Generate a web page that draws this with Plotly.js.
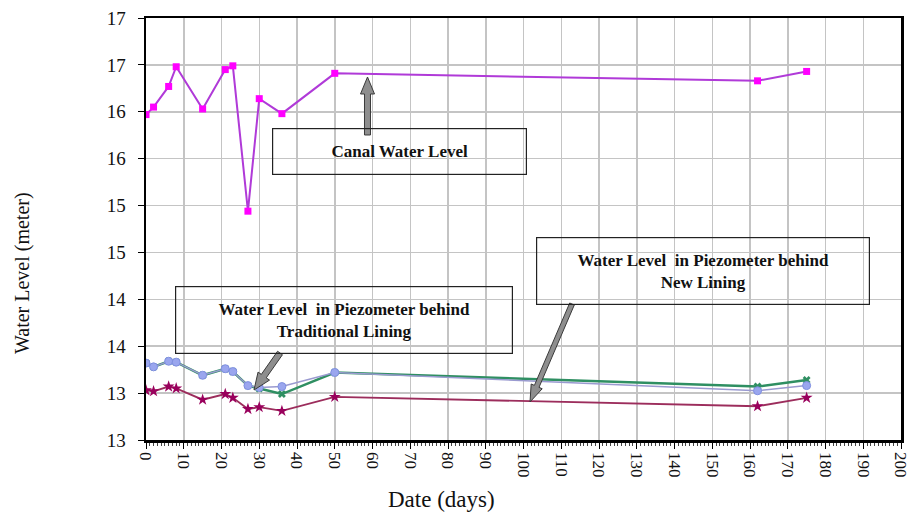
<!DOCTYPE html>
<html>
<head>
<meta charset="utf-8">
<script src="https://cdn.plot.ly/plotly-3.0.1.min.js"></script>
<style>html,body{margin:0;padding:0;background:#fff;}#chart{width:911px;height:512px;}</style>
</head>
<body>
<div id="chart"></div>
<script>
// ---- data ----
const days = [0, 2, 6, 8, 15, 21, 23, 27, 30, 36, 50, 162, 175];
const canalLevel = [16.22, 16.30, 16.52, 16.73, 16.28, 16.70, 16.74, 15.19, 16.39, 16.23, 16.66, 16.58, 16.68];
const piezoBlue = [13.57, 13.53, 13.59, 13.58, 13.44, 13.51, 13.48, 13.33, 13.31, 13.32, 13.47, 13.275, 13.33];
const piezoGreen = [13.57, 13.53, 13.59, 13.58, 13.44, 13.51, 13.48, 13.33, 13.30, 13.24, 13.47, 13.32, 13.39];
const piezoRed = [13.28, 13.27, 13.32, 13.30, 13.18, 13.24, 13.20, 13.08, 13.10, 13.06, 13.21, 13.11, 13.20];
const xTickVals = [0, 10, 20, 30, 40, 50, 60, 70, 80, 90, 100, 110, 120, 130, 140, 150, 160, 170, 180, 190, 200];
const yTickVals = [12.75, 13.25, 13.75, 14.25, 14.75, 15.25, 15.75, 16.25, 16.75, 17.25];
const yTickText = ['13', '13', '14', '14', '15', '15', '16', '16', '17', '17'];

// ---- geometry helpers (pixel -> paper) ----
const L = 146, R = 901, T = 18, B = 440;
const px = x => (x - L) / (R - L);
const py = y => (B - y) / (B - T);
function arrowPath(x0, y0, x1, y1, sw, hw, hl) {
  const dx = x1 - x0, dy = y1 - y0, len = Math.hypot(dx, dy);
  const ux = dx / len, uy = dy / len, nx = -uy, ny = ux;
  const bx = x1 - ux * hl, by = y1 - uy * hl;
  const pts = [
    [x0 + nx * sw / 2, y0 + ny * sw / 2],
    [bx + nx * sw / 2, by + ny * sw / 2],
    [bx + nx * hw / 2, by + ny * hw / 2],
    [x1, y1],
    [bx - nx * hw / 2, by - ny * hw / 2],
    [bx - nx * sw / 2, by - ny * sw / 2],
    [x0 - nx * sw / 2, y0 - ny * sw / 2]
  ];
  return 'M' + pts.map(p => px(p[0]).toFixed(5) + ',' + py(p[1]).toFixed(5)).join(' L') + ' Z';
}
function arrowShape(x0, y0, x1, y1, sw, hw, hl) {
  return {type: 'path', xref: 'paper', yref: 'paper', path: arrowPath(x0, y0, x1, y1, sw, hw, hl),
    fillcolor: '#8e8e8e', line: {color: '#3a3a3a', width: 1}, layer: 'above'};
}
function box(cx, cy, w, h, text) {
  return {xref: 'paper', yref: 'paper', x: px(cx), y: py(cy), xanchor: 'center', yanchor: 'middle',
    width: w, height: h, text: text, showarrow: false, bordercolor: '#222', borderwidth: 1.2, borderpad: 0,
    bgcolor: 'rgba(255,255,255,0)', align: 'center', valign: 'middle',
    font: {family: 'Liberation Serif', size: 17, color: '#111', weight: 'bold'}};
}

const serif = 'Liberation Serif';
const traces = [
  {x: days, y: piezoGreen, mode: 'lines+markers', line: {color: '#2f8f62', width: 2.5},
   marker: {symbol: 'x', size: 7, color: '#2f8f62'}, showlegend: false},
  {x: days, y: piezoBlue, mode: 'lines+markers', line: {color: '#9a9ad0', width: 1.5},
   marker: {symbol: 'circle', size: 8, color: '#9aa6ee', line: {color: '#7f8fe0', width: 1}}, showlegend: false},
  {x: days, y: piezoRed, mode: 'lines+markers', line: {color: '#9c2d5c', width: 1.8},
   marker: {symbol: 'star', size: 9, color: '#99005c'}, showlegend: false},
  {x: days, y: canalLevel, mode: 'lines+markers', line: {color: '#b03ad8', width: 2},
   marker: {symbol: 'square', size: 7, color: '#ff00ff'}, showlegend: false}
];

const layout = {
  width: 911, height: 512,
  margin: {l: L, r: 911 - R, t: T, b: 512 - B},
  paper_bgcolor: '#fff', plot_bgcolor: '#fff',
  xaxis: {range: [0, 200], tickmode: 'array', tickvals: xTickVals, tickangle: 90, ticks: 'outside', ticklen: 6, tickcolor: '#000',
    ticklabeloverflow: 'allow',
    showgrid: true, gridcolor: '#c4c4c4', gridwidth: 1.5, zeroline: false,
    showline: true, linecolor: '#000', linewidth: 2.5, mirror: true,
    minor: {dtick: 1, tick0: 0, ticks: 'outside', ticklen: 3, tickcolor: '#444', showgrid: false},
    tickfont: {family: serif, size: 17, color: '#111'}},
  yaxis: {range: [12.75, 17.25], tickmode: 'array', tickvals: yTickVals, ticktext: yTickText,
    ticks: 'outside', ticklen: 6, tickcolor: '#000', ticklabelstandoff: 8,
    showgrid: true, gridcolor: '#c4c4c4', gridwidth: 1.5, zeroline: false,
    showline: true, linecolor: '#000', linewidth: 2.5, mirror: true,
    tickfont: {family: serif, size: 19, color: '#111'}},
  annotations: [
    box(399, 151, 253, 45, 'Canal Water Level'),
    box(343.7, 319.7, 336, 66, 'Water Level  in Piezometer behind<br>Traditional Lining'),
    box(703.3, 271, 332, 66, 'Water Level  in Piezometer behind<br>New Lining'),
    {xref: 'paper', yref: 'paper', x: px(22), y: py(273), text: 'Water Level (meter)', textangle: -90,
     showarrow: false, xanchor: 'center', yanchor: 'middle', font: {family: serif, size: 20, color: '#111'}},
    {xref: 'paper', yref: 'paper', x: px(441), y: py(499), text: 'Date (days)',
     showarrow: false, xanchor: 'center', yanchor: 'middle', font: {family: serif, size: 23, color: '#111'}}
  ],
  shapes: [
    arrowShape(367.5, 135, 367.5, 77, 6, 14, 17),
    arrowShape(280, 353, 254, 390, 6, 14, 17),
    arrowShape(572, 304, 530, 402, 5, 12, 17)
  ]
};

Plotly.newPlot('chart', traces, layout, {displayModeBar: false, staticPlot: true});
</script>
</body>
</html>
